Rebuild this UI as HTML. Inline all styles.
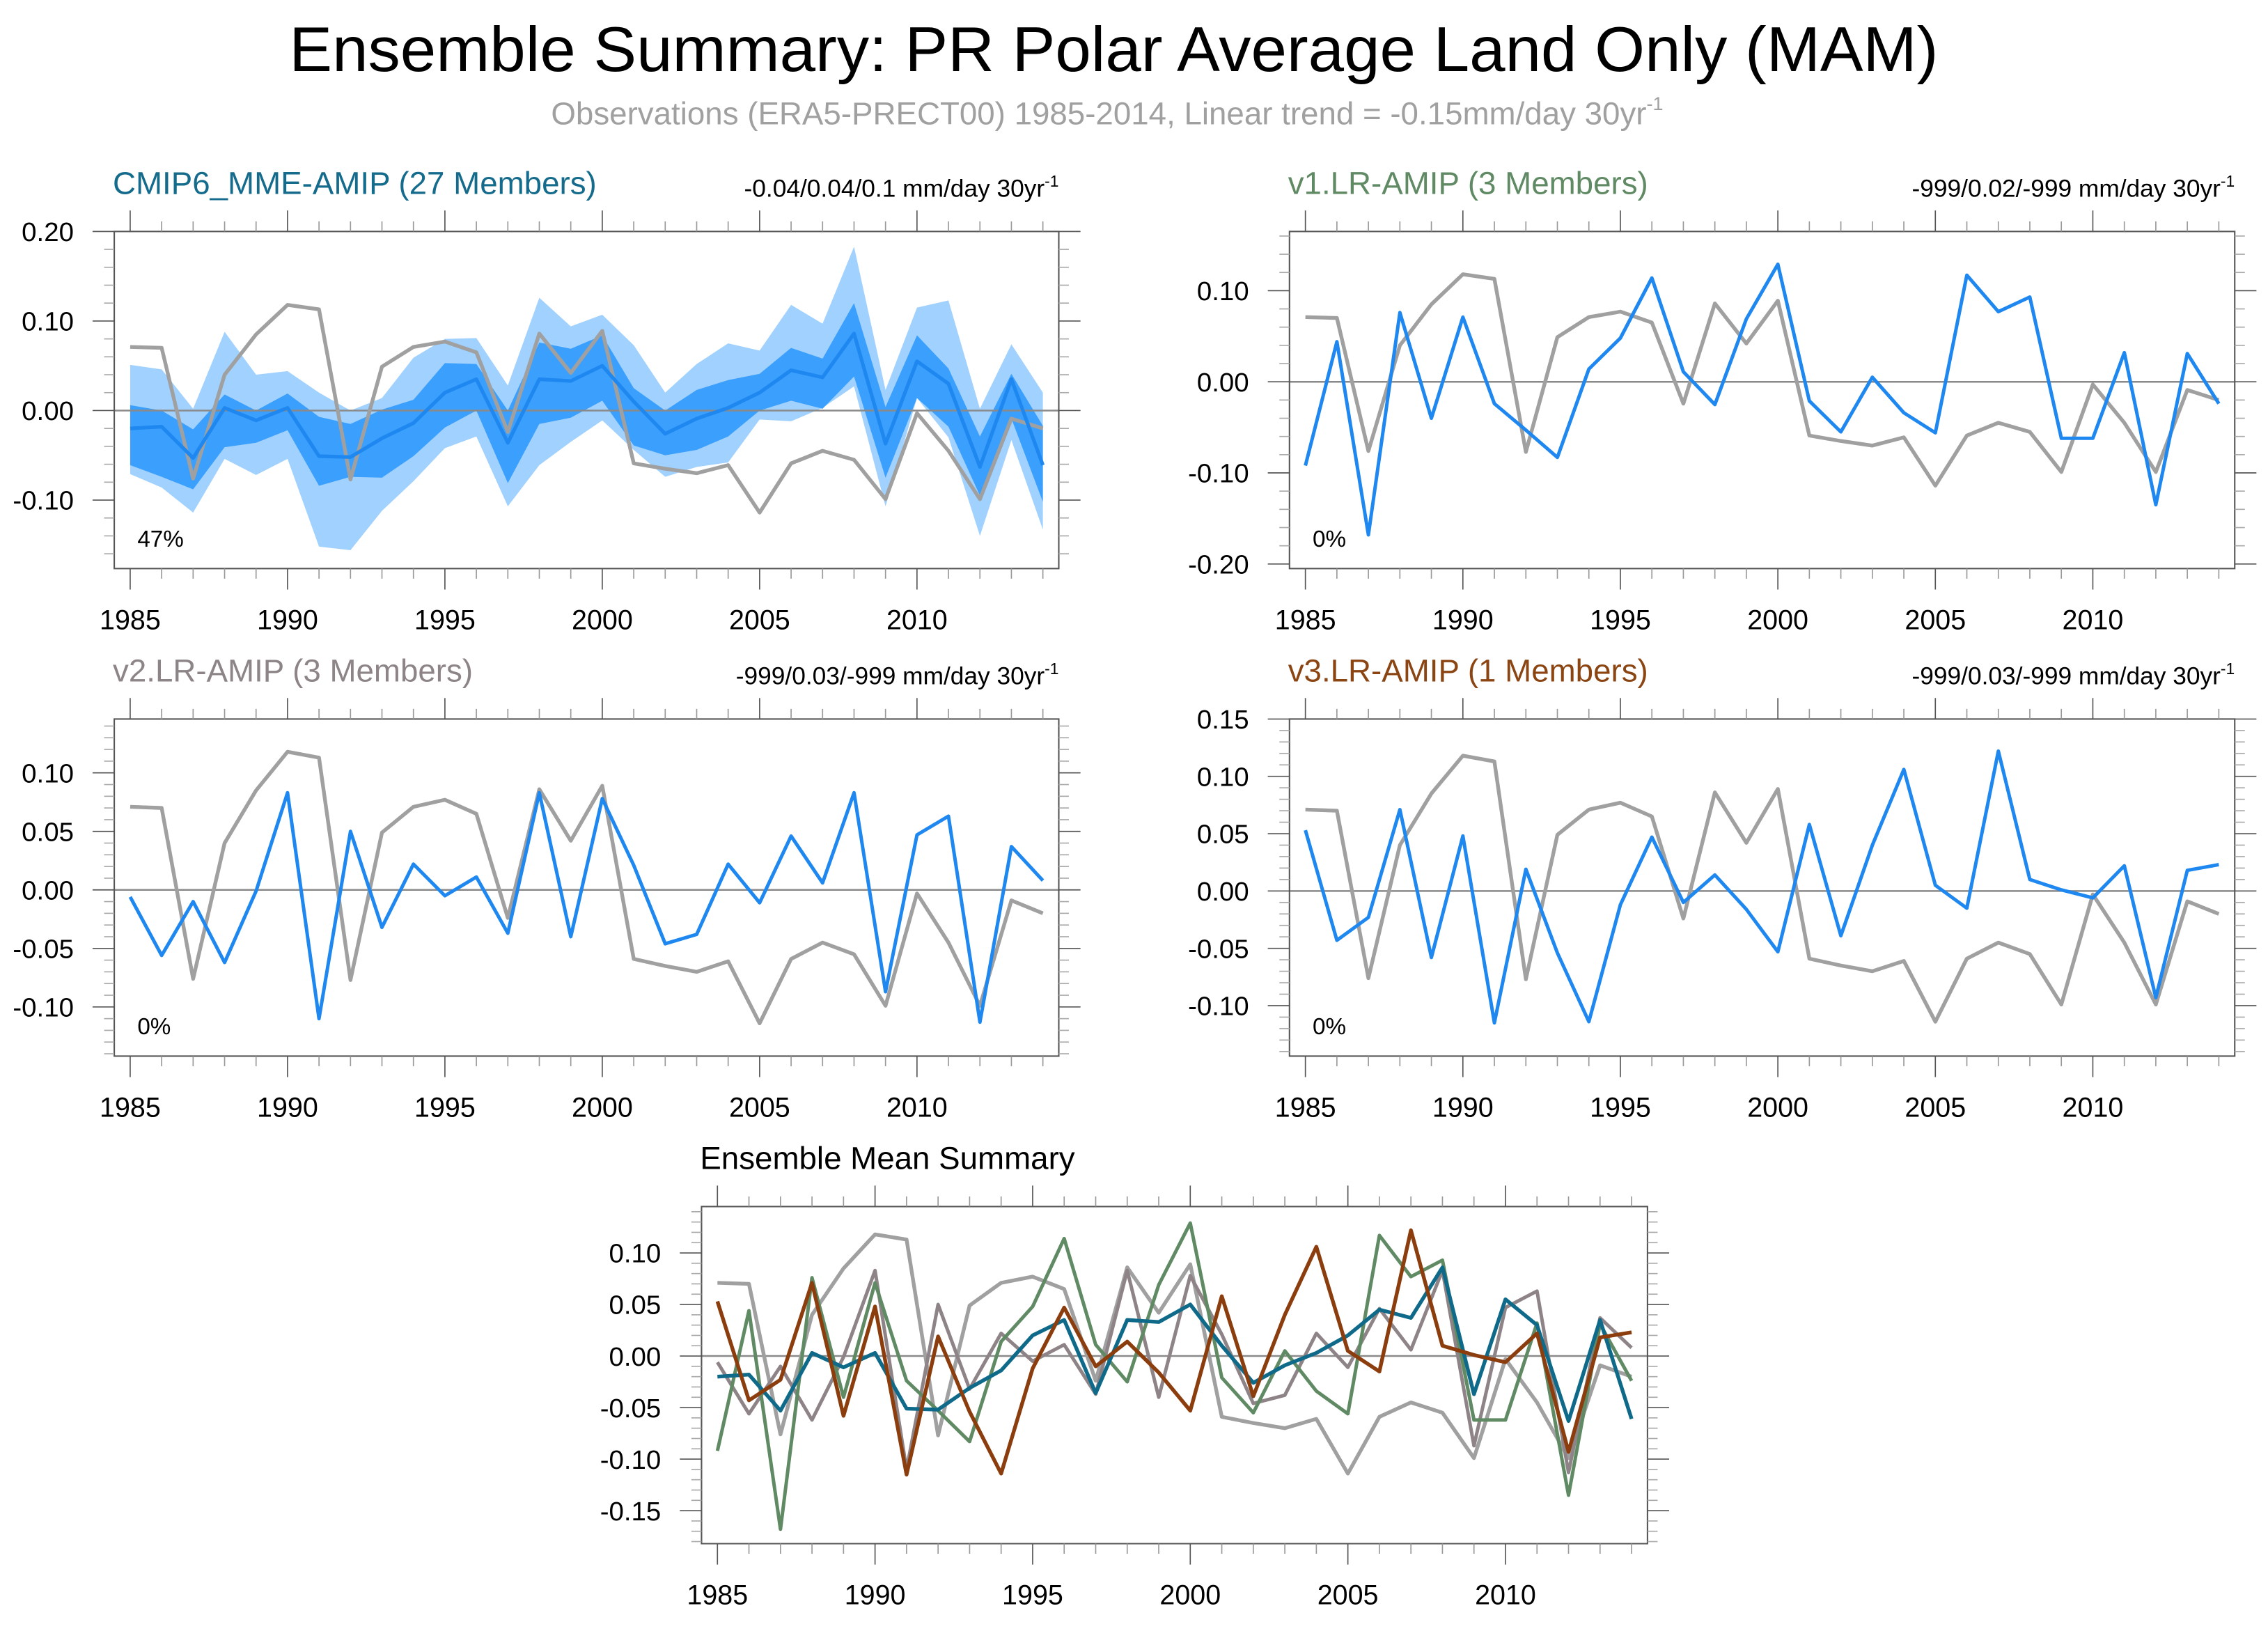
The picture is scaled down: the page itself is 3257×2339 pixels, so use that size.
<!DOCTYPE html>
<html><head><meta charset="utf-8">
<style>
html,body{margin:0;padding:0;background:#fff;}
svg{display:block;font-family:"Liberation Sans",Arial,sans-serif;}
</style></head>
<body>
<svg id="chart" width="3257" height="2339" viewBox="0 0 1568 1126" preserveAspectRatio="none" xmlns="http://www.w3.org/2000/svg">
<text x="770" y="49" font-size="44" text-anchor="middle" textLength="1140" lengthAdjust="spacingAndGlyphs" fill="#000">Ensemble Summary: PR Polar Average Land Only (MAM)</text>
<text x="381" y="86" font-size="22" fill="#a0a0a0">Observations (ERA5-PRECT00) 1985-2014, Linear trend = -0.15mm/day 30yr<tspan font-size="13" dy="-10">-1</tspan></text>
<g id="plots"></g>
</svg>
<script>
const years = [1985,1986,1987,1988,1989,1990,1991,1992,1993,1994,1995,1996,1997,1998,1999,2000,2001,2002,2003,2004,2005,2006,2007,2008,2009,2010,2011,2012,2013,2014];
const obs = [0.071,0.070,-0.076,0.040,0.085,0.118,0.113,-0.077,0.049,0.071,0.077,0.065,-0.024,0.086,0.042,0.089,-0.059,-0.065,-0.070,-0.061,-0.114,-0.059,-0.045,-0.055,-0.099,-0.003,-0.045,-0.099,-0.009,-0.020];
const cmipMean = [-0.020,-0.018,-0.053,0.003,-0.011,0.003,-0.051,-0.052,-0.031,-0.014,0.020,0.035,-0.036,0.035,0.033,0.050,0.010,-0.026,-0.009,0.003,0.020,0.045,0.037,0.086,-0.037,0.055,0.030,-0.063,0.035,-0.061];
const cmipDarkHi = [0.006,0.000,-0.021,0.018,0.000,0.019,-0.007,-0.015,0.001,0.012,0.053,0.052,0.000,0.076,0.069,0.084,0.025,0.000,0.023,0.034,0.041,0.070,0.058,0.120,0.004,0.084,0.047,-0.029,0.041,-0.017];
const cmipDarkLo = [-0.061,-0.074,-0.088,-0.041,-0.036,-0.022,-0.084,-0.074,-0.075,-0.051,-0.019,0.000,-0.081,-0.015,-0.008,0.011,-0.039,-0.050,-0.044,-0.029,0.000,0.011,0.002,0.038,-0.075,0.014,-0.018,-0.095,-0.009,-0.102];
const cmipLightHi = [0.051,0.046,0.002,0.088,0.040,0.044,0.020,0.000,0.014,0.059,0.080,0.081,0.028,0.126,0.094,0.107,0.073,0.020,0.052,0.075,0.067,0.118,0.097,0.183,0.023,0.115,0.123,0.002,0.074,0.020];
const cmipLightLo = [-0.071,-0.086,-0.114,-0.054,-0.072,-0.054,-0.152,-0.156,-0.112,-0.079,-0.042,-0.029,-0.107,-0.061,-0.035,-0.011,-0.044,-0.074,-0.063,-0.058,-0.010,-0.012,0.003,0.027,-0.107,0.014,-0.030,-0.140,-0.033,-0.133];
const v1 = [-0.092,0.044,-0.168,0.076,-0.040,0.071,-0.024,-0.053,-0.083,0.014,0.048,0.114,0.011,-0.025,0.069,0.129,-0.021,-0.055,0.005,-0.034,-0.056,0.117,0.077,0.093,-0.062,-0.062,0.032,-0.135,0.031,-0.024];
const v2 = [-0.006,-0.056,-0.010,-0.062,-0.001,0.083,-0.110,0.050,-0.032,0.022,-0.005,0.011,-0.037,0.083,-0.040,0.078,0.021,-0.046,-0.038,0.022,-0.011,0.046,0.006,0.083,-0.087,0.047,0.063,-0.113,0.037,0.008];
const v3 = [0.053,-0.043,-0.023,0.071,-0.058,0.048,-0.115,0.019,-0.054,-0.114,-0.012,0.047,-0.010,0.014,-0.016,-0.053,0.058,-0.039,0.040,0.106,0.005,-0.015,0.122,0.010,0.001,-0.006,0.022,-0.093,0.018,0.023];
const xTickLabels = ["1985","1990","1995","2000","2005","2010"];
const yTicks1 = ["0.20","0.10","0.00","-0.10"];
const yTicks2 = ["0.10","0.00","-0.10","-0.20"];
const yTicks3 = ["0.10","0.05","0.00","-0.05","-0.10"];
const yTicks4 = ["0.15","0.10","0.05","0.00","-0.05","-0.10"];
const yTicks5 = ["0.10","0.05","0.00","-0.05","-0.10","-0.15"];

const NS="http://www.w3.org/2000/svg";
const root=document.getElementById('plots');
function mk(tag,attrs,parent){const e=document.createElementNS(NS,tag);for(const k in attrs)e.setAttribute(k,attrs[k]);(parent||root).appendChild(e);return e;}

function panel(cfg){
  const g=mk('g',{});
  
  
  const L=cfg.x0,R=cfg.x1,T=cfg.y0,B=cfg.y1;
  const X=y=>L+11+(y-1985)*(R-L-22)/29;
  const Y=v=>T+(cfg.ymax-v)*(B-T)/(cfg.ymax-cfg.ymin);
  (cfg.bands||[]).forEach(b=>{
    let d='M'+years.map((yr,i)=>X(yr).toFixed(2)+','+Y(b.hi[i]).toFixed(2)).join('L');
    d+='L'+years.slice().reverse().map((yr,j)=>{const i=years.length-1-j;return X(yr).toFixed(2)+','+Y(b.lo[i]).toFixed(2);}).join('L')+'Z';
    const p=mk('path',{d:d,fill:b.color,stroke:'none'},g);
    
    
  });
  const z=mk('line',{x1:L,x2:R,y1:Y(0),y2:Y(0),stroke:'#8a8a8a','stroke-width':1.2},g);
  
  
  cfg.series.forEach(s=>{
    const pts=years.map((yr,i)=>X(yr).toFixed(2)+','+Y(s.v[i]).toFixed(2)).join(' ');
    const pl=mk('polyline',{points:pts,fill:'none',stroke:s.color,'stroke-width':s.w||2.2,'stroke-linejoin':'round'},g);
    
    
  });
  const bx=mk('rect',{x:L,y:T,width:R-L,height:B-T,fill:'none',stroke:'#555','stroke-width':1},g);
  
  
  years.forEach(yr=>{
    const major=(yr%5===0);const len=major?14.5:7;const col=major?'#555':'#999';
    mk('line',{x1:X(yr),x2:X(yr),y1:T,y2:T-len,stroke:col,'stroke-width':0.8},g);
    mk('line',{x1:X(yr),x2:X(yr),y1:B,y2:B+len,stroke:col,'stroke-width':0.8},g);
  });
  xTickLabels.forEach(t=>{
    const tx=mk('text',{x:X(+t),y:B+42,'font-size':19,'text-anchor':'middle',fill:'#000'},g);
    tx.textContent=t;
    
    
  });
  const step=cfg.minor;
  const start=Math.ceil(cfg.ymin/step-1e-6), end=Math.floor(cfg.ymax/step+1e-6);
  for(let k=start;k<=end;k++){
    const v=k*step;const major=Math.abs(v/cfg.major-Math.round(v/cfg.major))<1e-6;
    const len=major?15:7;const col=major?'#555':'#aaa';
    mk('line',{x1:L,x2:L-len,y1:Y(v),y2:Y(v),stroke:col,'stroke-width':0.8},g);
    mk('line',{x1:R,x2:R+len,y1:Y(v),y2:Y(v),stroke:col,'stroke-width':0.8},g);
  }
  cfg.yLabels.forEach(t=>{
    const tx=mk('text',{x:L-28,y:Y(+t)+6.6,'font-size':18.5,'text-anchor':'end',fill:'#000'},g);
    tx.textContent=t;
    
    
  });
  const tt=mk('text',{x:L-1,y:T-26,'font-size':22,fill:cfg.titleColor},g);
  tt.textContent=cfg.title;
  
  
  if(cfg.trend){
    const tr=mk('text',{x:R,y:T-24,'font-size':17,'text-anchor':'end',fill:'#000'},g);
    
    
    tr.appendChild(document.createTextNode(cfg.trend));
    const sp=mk('tspan',{'font-size':11,dy:-7},tr);sp.textContent='-1';
  }
  if(cfg.pct){
    const pc=mk('text',{x:L+16,y:B-15,'font-size':16,fill:'#000'},g);
    pc.textContent=cfg.pct;
    
    
  }
}
const OBS='#a0a0a0', BLUE='#1e88f0';
panel({name:'cmip6-panel',x0:79,x1:732,y0:160,y1:393,ymax:0.2,ymin:-0.1765,major:0.1,minor:0.02,yLabels:yTicks1,
  title:'CMIP6_MME-AMIP (27 Members)',titleColor:'#146b8c',trend:'-0.04/0.04/0.1 mm/day 30yr',pct:'47%',
  bands:[{name:'spread-band-outer',hi:cmipLightHi,lo:cmipLightLo,color:'#a1d1fe'},{name:'spread-band-inner',hi:cmipDarkHi,lo:cmipDarkLo,color:'#3b9ffd'}],
  series:[{name:'obs-line',v:obs,color:OBS,w:2.6},{name:'cmip6-mean-line',v:cmipMean,color:BLUE,w:2.5}]});
panel({name:'v1-panel',x0:891.5,x1:1545,y0:160,y1:393,ymax:0.165,ymin:-0.205,major:0.1,minor:0.02,yLabels:yTicks2,
  title:'v1.LR-AMIP (3 Members)',titleColor:'#5f8a63',trend:'-999/0.02/-999 mm/day 30yr',pct:'0%',
  series:[{name:'obs-line',v:obs,color:OBS,w:2.6},{name:'v1-line',v:v1,color:BLUE,w:2.4}]});
panel({name:'v2-panel',x0:79,x1:732,y0:497,y1:730,ymax:0.146,ymin:-0.142,major:0.05,minor:0.01,yLabels:yTicks3,
  title:'v2.LR-AMIP (3 Members)',titleColor:'#8c8486',trend:'-999/0.03/-999 mm/day 30yr',pct:'0%',
  series:[{name:'obs-line',v:obs,color:OBS,w:2.6},{name:'v2-line',v:v2,color:BLUE,w:2.4}]});
panel({name:'v3-panel',x0:891.5,x1:1545,y0:497,y1:730,ymax:0.15,ymin:-0.144,major:0.05,minor:0.01,yLabels:yTicks4,
  title:'v3.LR-AMIP (1 Members)',titleColor:'#8b4513',trend:'-999/0.03/-999 mm/day 30yr',pct:'0%',
  series:[{name:'obs-line',v:obs,color:OBS,w:2.6},{name:'v3-line',v:v3,color:BLUE,w:2.4}]});
panel({name:'ensemble-mean-panel',x0:485,x1:1139,y0:834,y1:1067,ymax:0.145,ymin:-0.182,major:0.05,minor:0.01,yLabels:yTicks5,
  title:'Ensemble Mean Summary',titleColor:'#000',
  series:[{name:'obs-line',v:obs,color:OBS,w:2.6},{name:'v2-mean-line',v:v2,color:'#8e8487',w:2.4},{name:'v1-mean-line',v:v1,color:'#5f8a63',w:2.4},{name:'cmip6-mean-line',v:cmipMean,color:'#0f6a8a',w:2.6},{name:'v3-mean-line',v:v3,color:'#8b3d0e',w:2.6}]});
</script>
</body></html>
